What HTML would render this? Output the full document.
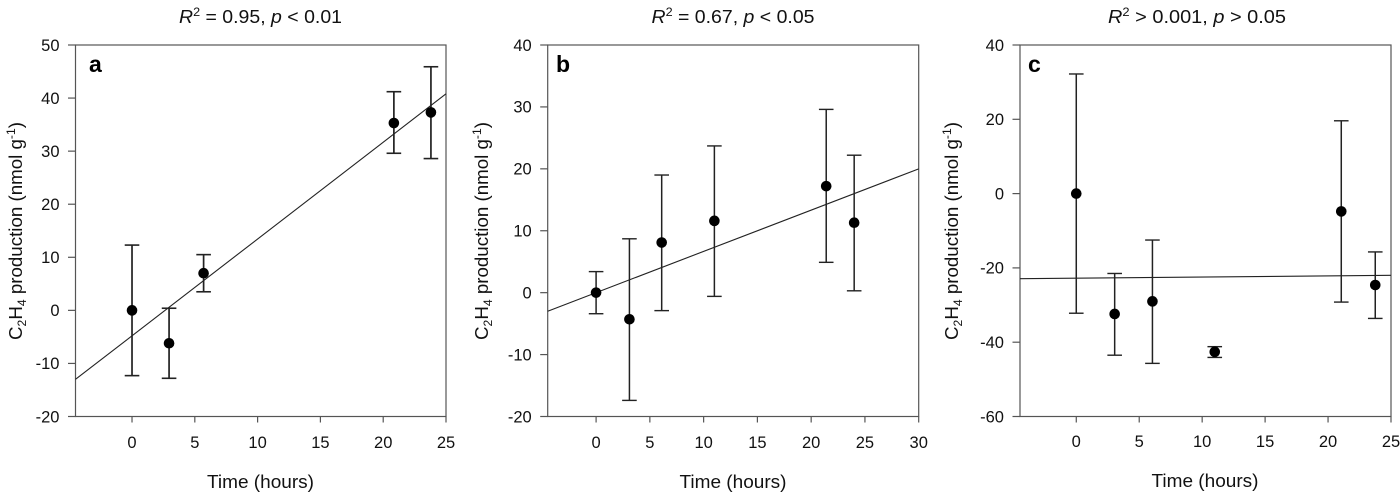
<!DOCTYPE html>
<html>
<head>
<meta charset="utf-8">
<style>
html,body{margin:0;padding:0;background:#fff;}
svg{display:block;}
text{font-family:"Liberation Sans",sans-serif;fill:#111;}
.tick{font-size:16.5px;}
.ttl{font-size:18.5px;}
.letter{font-size:23px;font-weight:bold;fill:#000;}
</style>
</head>
<body>
<svg id="figure" width="1400" height="494" viewBox="0 0 1400 494" xmlns="http://www.w3.org/2000/svg">
  <rect x="0" y="0" width="1400" height="494" fill="#fff"/>

  <text class="ttl" x="260.5" y="23" text-anchor="middle" textLength="163" lengthAdjust="spacingAndGlyphs"><tspan font-style="italic">R</tspan><tspan font-size="12" dy="-7">2</tspan><tspan dy="7"> = 0.95, </tspan><tspan font-style="italic">p</tspan><tspan> &lt; 0.01</tspan></text>
  <text class="ttl" x="733" y="23" text-anchor="middle" textLength="163" lengthAdjust="spacingAndGlyphs"><tspan font-style="italic">R</tspan><tspan font-size="12" dy="-7">2</tspan><tspan dy="7"> = 0.67, </tspan><tspan font-style="italic">p</tspan><tspan> &lt; 0.05</tspan></text>
  <text class="ttl" x="1197" y="23" text-anchor="middle" textLength="178" lengthAdjust="spacingAndGlyphs"><tspan font-style="italic">R</tspan><tspan font-size="12" dy="-7">2</tspan><tspan dy="7"> &gt; 0.001, </tspan><tspan font-style="italic">p</tspan><tspan> &gt; 0.05</tspan></text>

  <text class="ttl" transform="translate(22,231) rotate(-90)" text-anchor="middle" textLength="218" lengthAdjust="spacingAndGlyphs">C<tspan font-size="12" dy="4">2</tspan><tspan dy="-4">H</tspan><tspan font-size="12" dy="4">4</tspan><tspan dy="-4"> production (nmol g</tspan><tspan font-size="12" dy="-7">-1</tspan><tspan dy="7">)</tspan></text>
  <text class="ttl" transform="translate(488,231) rotate(-90)" text-anchor="middle" textLength="218" lengthAdjust="spacingAndGlyphs">C<tspan font-size="12" dy="4">2</tspan><tspan dy="-4">H</tspan><tspan font-size="12" dy="4">4</tspan><tspan dy="-4"> production (nmol g</tspan><tspan font-size="12" dy="-7">-1</tspan><tspan dy="7">)</tspan></text>
  <text class="ttl" transform="translate(958,231) rotate(-90)" text-anchor="middle" textLength="218" lengthAdjust="spacingAndGlyphs">C<tspan font-size="12" dy="4">2</tspan><tspan dy="-4">H</tspan><tspan font-size="12" dy="4">4</tspan><tspan dy="-4"> production (nmol g</tspan><tspan font-size="12" dy="-7">-1</tspan><tspan dy="7">)</tspan></text>

  <text class="ttl" x="260.5" y="488" text-anchor="middle" textLength="107" lengthAdjust="spacingAndGlyphs">Time (hours)</text>
  <text class="ttl" x="733" y="488" text-anchor="middle" textLength="107" lengthAdjust="spacingAndGlyphs">Time (hours)</text>
  <text class="ttl" x="1205" y="487" text-anchor="middle" textLength="107" lengthAdjust="spacingAndGlyphs">Time (hours)</text>

  <text class="letter" x="89" y="72">a</text>
  <text class="letter" x="556" y="72">b</text>
  <text class="letter" x="1028" y="72">c</text>
</svg>
<script>
const aXTicks = [0, 5, 10, 15, 20, 25];
const aYTicks = [-20, -10, 0, 10, 20, 30, 40, 50];
const aTimes = [0, 2.95, 5.7, 20.85, 23.8];
const aMeans = [0, -6.2, 7, 35.3, 37.3];
const aUpper = [12.3, 0.4, 10.5, 41.2, 45.9];
const aLower = [-12.3, -12.8, 3.5, 29.6, 28.6];
const aFitX = [-4.5, 25];
const aFitY = [-13, 40.8];

const bXTicks = [0, 5, 10, 15, 20, 25, 30];
const bYTicks = [-20, -10, 0, 10, 20, 30, 40];
const bTimes = [0, 3.1, 6.1, 11, 21.4, 24];
const bMeans = [0, -4.3, 8.1, 11.6, 17.2, 11.3];
const bUpper = [3.4, 8.7, 19, 23.7, 29.6, 22.2];
const bLower = [-3.4, -17.4, -2.9, -0.6, 4.9, 0.3];
const bFitX = [-4.5, 30];
const bFitY = [-3, 20];

const cXTicks = [0, 5, 10, 15, 20, 25];
const cYTicks = [-60, -40, -20, 0, 20, 40];
const cTimes = [0, 3.05, 6.05, 11, 21.05, 23.75];
const cMeans = [0, -32.4, -29, -42.6, -4.8, -24.6];
const cUpper = [32.2, -21.5, -12.5, -41.2, 19.6, -15.7];
const cLower = [-32.2, -43.5, -45.7, -44.1, -29.2, -33.6];
const cFitX = [-4.47, 25];
const cFitY = [-22.9, -22];

const NS = 'http://www.w3.org/2000/svg';
const figure = document.getElementById('figure');

function lineEl(x1, y1, x2, y2, stroke, width) {
  const l = document.createElementNS(NS, 'line');
  l.setAttribute('x1', x1);
  l.setAttribute('y1', y1);
  l.setAttribute('x2', x2);
  l.setAttribute('y2', y2);
  l.setAttribute('stroke', stroke);
  l.setAttribute('stroke-width', width);
  figure.appendChild(l);
  return l;
}

function textEl(x, y, anchor, str) {
  const t = document.createElementNS(NS, 'text');
  t.setAttribute('x', x);
  t.setAttribute('y', y);
  t.setAttribute('text-anchor', anchor);
  t.setAttribute('class', 'tick');
  t.textContent = str;
  figure.appendChild(t);
  return t;
}

function drawPanel(key, left, right, top, bottom, xMin, xTicks, yTicks, times, means, upper, lower, fitX, fitY, errWidth, xLabelY) {
  const xMax = xTicks[xTicks.length - 1];
  const yMin = yTicks[0];
  const yMax = yTicks[yTicks.length - 1];
  const sx = v => left + (v - xMin) / (xMax - xMin) * (right - left);
  const sy = v => bottom - (v - yMin) / (yMax - yMin) * (bottom - top);

  const frame = document.createElementNS(NS, 'rect');
  frame.setAttribute('x', left);
  frame.setAttribute('y', top);
  frame.setAttribute('width', right - left);
  frame.setAttribute('height', bottom - top);
  frame.setAttribute('fill', 'none');
  frame.setAttribute('stroke', '#555');
  frame.setAttribute('stroke-width', '1.2');
  
  
  figure.appendChild(frame);

  yTicks.forEach(v => {
    const tk = lineEl(left - 7.5, sy(v), left, sy(v), '#555', 1.2);
    
    
    const lb = textEl(left - 16, sy(v) + 5.8, 'end', String(v));
    
    
  });

  xTicks.forEach(v => {
    const tk = lineEl(sx(v), bottom, sx(v), bottom + 6, '#555', 1.2);
    
    
    const lb = textEl(sx(v), xLabelY, 'middle', String(v));
    
    
  });

  const fit = lineEl(sx(fitX[0]), sy(fitY[0]), sx(fitX[1]), sy(fitY[1]), '#222', 1.1);
  
  

  times.forEach((t, i) => {
    const stem = lineEl(sx(t), sy(upper[i]), sx(t), sy(lower[i]), '#222', errWidth);
    
    
    const capTop = lineEl(sx(t) - 7.3, sy(upper[i]), sx(t) + 7.3, sy(upper[i]), '#222', errWidth - 0.1);
    
    
    const capLow = lineEl(sx(t) - 7.3, sy(lower[i]), sx(t) + 7.3, sy(lower[i]), '#222', errWidth - 0.1);
    
    
    const dot = document.createElementNS(NS, 'circle');
    dot.setAttribute('cx', sx(t));
    dot.setAttribute('cy', sy(means[i]));
    dot.setAttribute('r', 5.3);
    dot.setAttribute('fill', '#000');
    
    
    figure.appendChild(dot);
  });
}

drawPanel('a', 75.5, 446, 45, 416.5, -4.5, aXTicks, aYTicks, aTimes, aMeans, aUpper, aLower, aFitX, aFitY, 1.7, 448);
drawPanel('b', 547.7, 918.7, 45, 416.5, -4.5, bXTicks, bYTicks, bTimes, bMeans, bUpper, bLower, bFitX, bFitY, 1.5, 448);
drawPanel('c', 1020, 1391, 45, 416.5, -4.47, cXTicks, cYTicks, cTimes, cMeans, cUpper, cLower, cFitX, cFitY, 1.5, 447);
</script>
</body>
</html>
